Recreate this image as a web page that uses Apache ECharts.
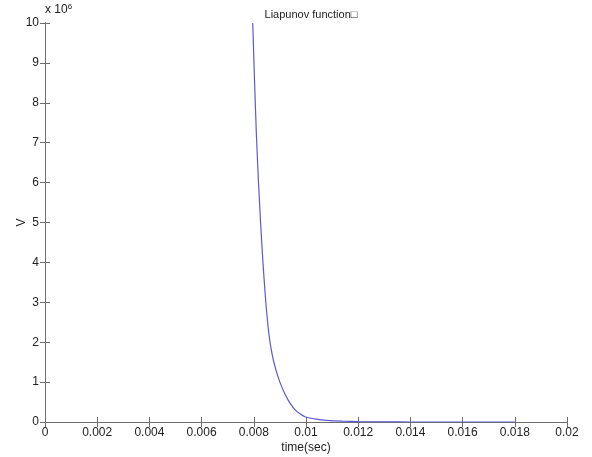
<!DOCTYPE html>
<html><head><meta charset="utf-8">
<script src="https://cdn.jsdelivr.net/npm/echarts@6/dist/echarts.min.js"></script>
<style>html,body{margin:0;padding:0;background:#fff}#c{width:592px;height:457px}</style>
</head><body><div id="c"></div>
<script>
var timeSec = [0.00796, 0.00803, 0.0081, 0.00818, 0.00826, 0.00835, 0.00846, 0.00858, 0.0087, 0.00885, 0.0090, 0.00918, 0.00938, 0.00962, 0.00996, 0.0104, 0.0108, 0.0114, 0.012, 0.013, 0.014, 0.016, 0.018];
var vValues = [10, 8.5, 7.2, 6.0, 5.0, 4.0, 3.0, 2.2, 1.7, 1.3, 1.0, 0.72, 0.48, 0.28, 0.13, 0.07, 0.04, 0.02, 0.01, 0.004, 0, 0, 0];
var xTicks = ['0','0.002','0.004','0.006','0.008','0.01','0.012','0.014','0.016','0.018','0.02'];
var titleText = 'Liapunov function\u25A1';

var chart = echarts.init(document.getElementById('c'), null, {renderer:'canvas'});
var axisCol = '#6e6e6e';
var font = 'Liberation Sans, Arial, sans-serif';
var data = timeSec.map(function(t,i){return [t, vValues[i]];});
chart.setOption({
  animation:false,
  title:{text:titleText, left:306, top:4, textAlign:'center', textStyle:{fontSize:11, fontWeight:'normal', color:'#222', fontFamily:font}},
  grid:{left:45, right:25, top:23, bottom:35, containLabel:false, outerBoundsMode:'none'},
  xAxis:[{type:'value', min:0, max:0.02, interval:0.002, position:'bottom',
    name:'time(sec)', nameLocation:'middle', nameGap:20, nameMoveOverlap:false, nameTextStyle:{fontSize:12,color:'#222',fontFamily:font},
    axisLine:{lineStyle:{color:axisCol}}, axisTick:{inside:true, length:5, lineStyle:{color:axisCol}},
    splitLine:{show:false},
    axisLabel:{fontSize:12, color:'#222', fontFamily:font, margin:5, formatter:function(v){return xTicks[Math.round(v/0.002)];}}},
   {type:'value', min:0, max:0.02, interval:0.002, position:'top',
    axisLine:{lineStyle:{color:axisCol}}, axisTick:{inside:true, length:5, lineStyle:{color:axisCol}},
    splitLine:{show:false}, axisLabel:{show:false}}],
  yAxis:[{type:'value', min:0, max:10, interval:1, position:'left',
    name:'V', nameLocation:'middle', nameGap:17, nameMoveOverlap:false, nameRotate:90, nameTextStyle:{fontSize:12,color:'#222',fontFamily:font},
    axisLine:{show:true, lineStyle:{color:axisCol}}, axisTick:{show:true, inside:true, length:5, lineStyle:{color:axisCol}},
    splitLine:{show:false}, axisLabel:{fontSize:12, color:'#222', fontFamily:font, margin:6}},
   {type:'value', min:0, max:10, interval:1, position:'right',
    axisLine:{show:true, lineStyle:{color:axisCol}}, axisTick:{show:true, inside:true, length:5, lineStyle:{color:axisCol}},
    splitLine:{show:false}, axisLabel:{show:false}}],
  graphic:[{type:'text', left:45, top:3, style:{text:'x 10{s|6}', rich:{s:{fontSize:8, verticalAlign:'top', padding:[0,0,6,0], fontFamily:font, fill:'#222'}}, fontSize:12, fill:'#222', fontFamily:font}}],
  series:[{type:'line', data:data, xAxisIndex:0, yAxisIndex:0, showSymbol:false, smooth:0.15,
    lineStyle:{color:'#5a5ad0', width:1.2}, clip:true}]
});
</script></body></html>
